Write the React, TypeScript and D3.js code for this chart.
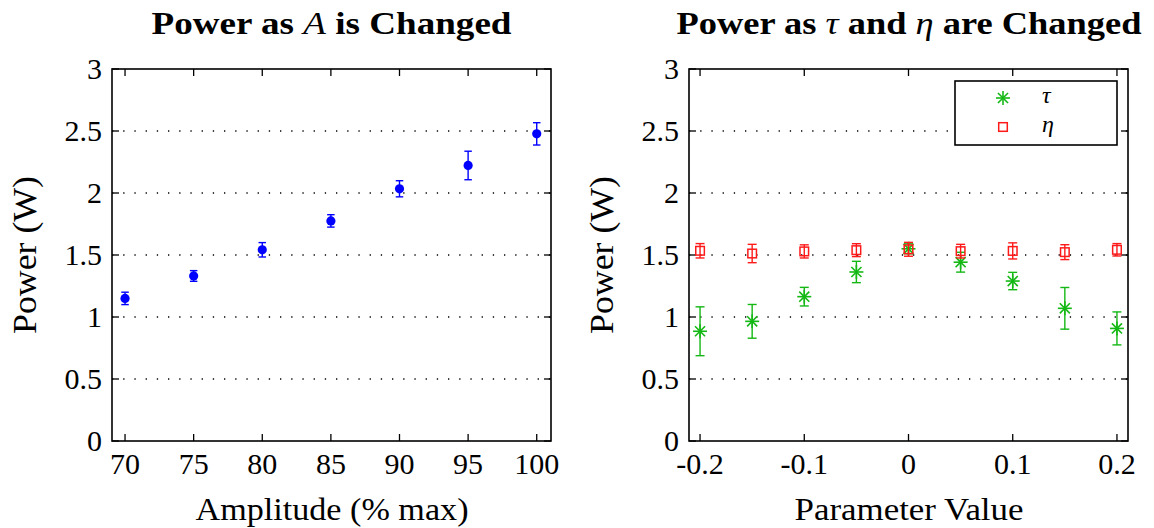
import React from "react";
import * as d3 from "d3";

const yTicks = [0, 0.5, 1, 1.5, 2, 2.5, 3];
const yTickLabels = ["0", "0.5", "1", "1.5", "2", "2.5", "3"];

const ampX = [70, 75, 80, 85, 90, 95, 100];
const ampPower = [1.15, 1.331, 1.542, 1.775, 2.034, 2.222, 2.477];
const ampErr = [0.05, 0.043, 0.058, 0.05, 0.065, 0.115, 0.09];
const ampTicks = [70, 75, 80, 85, 90, 95, 100];
const ampTickLabels = ["70", "75", "80", "85", "90", "95", "100"];

const paramX = [-0.2, -0.15, -0.1, -0.05, 0, 0.05, 0.1, 0.15, 0.2];
const tauPower = [0.885, 0.965, 1.164, 1.363, 1.55, 1.442, 1.29, 1.07, 0.908];
const tauErr = [0.197, 0.136, 0.075, 0.086, 0.04, 0.08, 0.07, 0.168, 0.133];
const etaPower = [1.534, 1.512, 1.529, 1.539, 1.546, 1.531, 1.533, 1.523, 1.542];
const etaErr = [0.058, 0.074, 0.053, 0.052, 0.056, 0.055, 0.065, 0.06, 0.05];
const paramTicks = [-0.2, -0.1, 0, 0.1, 0.2];
const paramTickLabels = ["-0.2", "-0.1", "0", "0.1", "0.2"];

const FONT = "'Liberation Serif', 'DejaVu Serif', serif";
const BLUE = "#0000ff";
const GREEN = "#14b814";
const RED = "#ff1a1a";

const TOP = 69;
const BOTTOM = 441;
const TICK = 7;

function ErrBar({ x, y0, y1, color, cap }: { x: number; y0: number; y1: number; color: string; cap: number }) {
  return (
    <g stroke={color} strokeWidth={1.4} fill="none">
      <line x1={x} x2={x} y1={y0} y2={y1} />
      <line x1={x - cap / 2} x2={x + cap / 2} y1={y0} y2={y0} />
      <line x1={x - cap / 2} x2={x + cap / 2} y1={y1} y2={y1} />
    </g>
  );
}

function Star({ x, y, r, color }: { x: number; y: number; r: number; color: string }) {
  const d = r * 0.72;
  return (
    <g stroke={color} strokeWidth={1.6}>
      <line x1={x - r} x2={x + r} y1={y} y2={y} />
      <line x1={x} x2={x} y1={y - r} y2={y + r} />
      <line x1={x - d} x2={x + d} y1={y - d} y2={y + d} />
      <line x1={x - d} x2={x + d} y1={y + d} y2={y - d} />
    </g>
  );
}

function Frame({
  left,
  right,
  x,
  y,
  xTicks,
  xTickLabels,
}: {
  left: number;
  right: number;
  x: d3.ScaleLinear<number, number>;
  y: d3.ScaleLinear<number, number>;
  xTicks: number[];
  xTickLabels: string[];
}) {
  return (
    <g>
      {yTicks
        .filter((t) => t > 0 && t < 3)
        .map((t) => (
          <line
            key={"g" + t}
            x1={left}
            x2={right}
            y1={y(t)}
            y2={y(t)}
            stroke="#000"
            strokeWidth={1.3}
            strokeDasharray="1.3 9.9"
          />
        ))}
      <rect x={left} y={TOP} width={right - left} height={BOTTOM - TOP} fill="none" stroke="#000" strokeWidth={1.6} />
      {yTicks.map((t, i) => (
        <g key={"y" + t}>
          <line x1={left} x2={left + TICK} y1={y(t)} y2={y(t)} stroke="#000" strokeWidth={1.3} />
          <line x1={right} x2={right - TICK} y1={y(t)} y2={y(t)} stroke="#000" strokeWidth={1.3} />
          <text
            x={left - 10}
            y={y(t)}
            dy="0.34em"
            textAnchor="end"
            fontFamily={FONT}
            fontSize={30}
            fill="#000"
          >
            {yTickLabels[i]}
          </text>
        </g>
      ))}
      {xTicks.map((t, i) => (
        <g key={"x" + t}>
          <line x1={x(t)} x2={x(t)} y1={BOTTOM} y2={BOTTOM - TICK} stroke="#000" strokeWidth={1.3} />
          <line x1={x(t)} x2={x(t)} y1={TOP} y2={TOP + TICK} stroke="#000" strokeWidth={1.3} />
          <text x={x(t)} y={474} textAnchor="middle" fontFamily={FONT} fontSize={30} fill="#000">
            {xTickLabels[i]}
          </text>
        </g>
      ))}
    </g>
  );
}

export default function App() {
  const L1 = 112,
    R1 = 551,
    L2 = 689,
    R2 = 1128;
  const y = d3.scaleLinear().domain([0, 3]).range([BOTTOM, TOP]);
  const xA = d3.scaleLinear().domain([69.05, 101.04]).range([L1, R1]);
  const xP = d3.scaleLinear().domain([-0.2106, 0.2106]).range([L2, R2]);

  const c1 = (L1 + R1) / 2;
  const c2 = (L2 + R2) / 2;

  return (
    <svg
      width={1154}
      height={528}
      style={{ position: "absolute", left: 0, top: 0, background: "#fff" }}
    >
      <rect x={0} y={0} width={1154} height={528} fill="#fff" />
      {/* Left panel */}
      <text
        x={c1 - 180}
        y={34}
        fontFamily={FONT}
        fontSize={32}
        fontWeight="bold"
        fill="#000"
        textLength={360}
        lengthAdjust="spacingAndGlyphs"
      >
        Power as{" "}
        <tspan fontStyle="italic" fontWeight="normal">
          A
        </tspan>{" "}
        is Changed
      </text>
      <Frame left={L1} right={R1} x={xA} y={y} xTicks={ampTicks} xTickLabels={ampTickLabels} />
      {ampX.map((v, i) => (
        <g key={"a" + i}>
          <ErrBar x={xA(v)} y0={y(ampPower[i] + ampErr[i])} y1={y(ampPower[i] - ampErr[i])} color={BLUE} cap={7.5} />
          <circle cx={xA(v)} cy={y(ampPower[i])} r={4.6} fill={BLUE} />
        </g>
      ))}
      <text
        x={c1 - 136}
        y={520}
        fontFamily={FONT}
        fontSize={32}
        fill="#000"
        textLength={273}
        lengthAdjust="spacingAndGlyphs"
      >
        Amplitude (% max)
      </text>
      <text
        transform={`translate(36,${(TOP + BOTTOM) / 2}) rotate(-90)`}
        x={-79}
        fontFamily={FONT}
        fontSize={33}
        fill="#000"
        textLength={158}
        lengthAdjust="spacingAndGlyphs"
      >
        Power (W)
      </text>

      {/* Right panel */}
      <text
        x={c2 - 232}
        y={34}
        fontFamily={FONT}
        fontSize={32}
        fontWeight="bold"
        fill="#000"
        textLength={465}
        lengthAdjust="spacingAndGlyphs"
      >
        Power as{" "}
        <tspan fontStyle="italic" fontWeight="normal">
          τ
        </tspan>{" "}
        and{" "}
        <tspan fontStyle="italic" fontWeight="normal">
          η
        </tspan>{" "}
        are Changed
      </text>
      <Frame left={L2} right={R2} x={xP} y={y} xTicks={paramTicks} xTickLabels={paramTickLabels} />
      {paramX.map((v, i) => (
        <g key={"t" + i}>
          <ErrBar x={xP(v)} y0={y(tauPower[i] + tauErr[i])} y1={y(tauPower[i] - tauErr[i])} color={GREEN} cap={9} />
          <Star x={xP(v)} y={y(tauPower[i])} r={7} color={GREEN} />
        </g>
      ))}
      {paramX.map((v, i) => (
        <g key={"e" + i}>
          <ErrBar x={xP(v)} y0={y(etaPower[i] + etaErr[i])} y1={y(etaPower[i] - etaErr[i])} color={RED} cap={9} />
          <rect x={xP(v) - 4.3} y={y(etaPower[i]) - 4.3} width={8.6} height={8.6} fill="none" stroke={RED} strokeWidth={1.5} />
        </g>
      ))}
      <text
        x={c2 - 114}
        y={520}
        fontFamily={FONT}
        fontSize={32}
        fill="#000"
        textLength={229}
        lengthAdjust="spacingAndGlyphs"
      >
        Parameter Value
      </text>
      <text
        transform={`translate(613,${(TOP + BOTTOM) / 2}) rotate(-90)`}
        x={-79}
        fontFamily={FONT}
        fontSize={33}
        fill="#000"
        textLength={158}
        lengthAdjust="spacingAndGlyphs"
      >
        Power (W)
      </text>

      {/* Legend */}
      <rect x={955} y={81} width={162} height={64} fill="#fff" stroke="#000" strokeWidth={1.6} />
      <Star x={1003} y={98} r={7} color={GREEN} />
      <text x={1042} y={103} fontFamily={FONT} fontSize={24} fontStyle="italic" fill="#000">
        τ
      </text>
      <rect x={1003 - 4.3} y={127 - 4.3} width={8.6} height={8.6} fill="none" stroke={RED} strokeWidth={1.5} />
      <text x={1042} y={132} fontFamily={FONT} fontSize={24} fontStyle="italic" fill="#000">
        η
      </text>
    </svg>
  );
}
